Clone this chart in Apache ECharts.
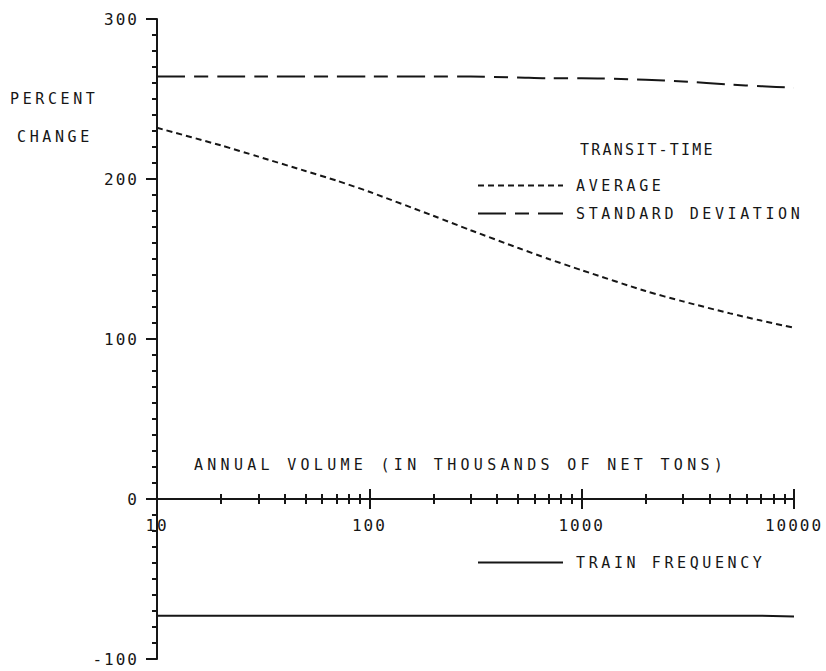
<!DOCTYPE html>
<html>
<head>
<meta charset="utf-8">
<script src="https://cdn.jsdelivr.net/npm/echarts@6/dist/echarts.min.js"></script>
<style>
  html, body { margin: 0; padding: 0; background: #ffffff; }
  #chart { width: 826px; height: 671px; }
</style>
</head>
<body>
<div id="chart"></div>
<script>
// Annual volume (thousands of net tons), log scale
const volume = [10, 20, 30, 50, 70, 100, 200, 300, 500, 700, 1000, 2000, 3000, 5000, 7000, 10000];
// Percent change in transit time
const transitAverage = [232, 221, 214, 205, 199, 192, 177, 168, 157, 150, 143, 130, 123.5, 116, 111.5, 107];
const transitStdDev  = [264, 264, 264, 264, 264, 264, 264, 264, 263.5, 263, 263, 262, 261, 259, 258, 257];
// Percent change in train frequency
const trainFrequency = [-73, -73, -73, -73, -73, -73, -73, -73, -73, -73, -73, -73, -73, -73, -73, -73.5];

const xMajorTicks = [10, 100, 1000, 10000];
const xMinorTicks = [20, 30, 40, 50, 60, 70, 80, 90,
                     200, 300, 400, 500, 600, 700, 800, 900,
                     2000, 3000, 4000, 5000, 6000, 7000, 8000, 9000];
// Upper panel: 0 .. 300, lower panel: -100 .. 0 (same units per pixel)
const yUpper = [0, 300];
const yLower = [-100, 0];
const yStep = 100;

const INK = '#161616';
const FONT = 'DejaVu Sans Mono';

const el = document.getElementById('chart');
const chart = echarts.init(el, null, { renderer: 'svg' });

function points(values) {
  return volume.map((v, i) => [v, values[i]]);
}

// One x-axis layer. The upper panel's bottom edge and the lower panel's
// top edge coincide at zero, so their ticks together cross the axis line.
function xLayer(gridIndex, position, ticks, len, extra) {
  return Object.assign({
    type: 'log',
    logBase: 10,
    min: 10,
    max: 10000,
    gridIndex: gridIndex,
    position: position,
    axisLine: { show: true, onZero: false, lineStyle: { color: INK, width: 2 } },
    axisTick: { show: true, length: len, customValues: ticks, lineStyle: { color: INK, width: 2 } },
    axisLabel: { show: false },
    splitLine: { show: false },
    minorTick: { show: false },
    minorSplitLine: { show: false }
  }, extra || {});
}

function yLayer(gridIndex, range, extra) {
  return Object.assign({
    type: 'value',
    gridIndex: gridIndex,
    min: range[0], max: range[1], interval: yStep,
    axisLine: { show: true, onZero: false, lineStyle: { color: INK, width: 2 } },
    axisTick: { show: true, length: 11, lineStyle: { color: INK, width: 2 } },
    minorTick: { show: true, splitNumber: 10, length: 5, lineStyle: { color: INK, width: 2 } },
    axisLabel: { margin: 18, fontFamily: FONT, fontSize: 16, color: INK },
    splitLine: { show: false }
  }, extra || {});
}

const textStyle = { fontFamily: FONT, fontSize: 15, color: INK, fontWeight: 'normal' };

const legendBase = {
  orient: 'vertical', left: 477, padding: 0,
  itemWidth: 85, itemHeight: 14, itemGap: 13,
  selectedMode: false,
  itemStyle: { opacity: 0 },
  textStyle: Object.assign({ padding: [0, 0, 0, 8] }, textStyle)
};

const option = {
  animation: false,
  backgroundColor: '#ffffff',
  grid: [
    { left: 157, right: 32, top: 19, bottom: 172, outerBoundsMode: 'none' },
    { left: 157, right: 32, top: 499, bottom: 12, outerBoundsMode: 'none' }
  ],
  title: [
    { text: 'PERCENT', left: 10, top: 91, padding: 0, textStyle: textStyle },
    { text: 'CHANGE', left: 17, top: 129, padding: 0, textStyle: textStyle },
    { text: 'TRANSIT-TIME', left: 580, top: 142, padding: 0, textStyle: textStyle }
  ],
  legend: [
    Object.assign({ data: ['AVERAGE', 'STANDARD DEVIATION'], top: 178 }, legendBase),
    Object.assign({ data: ['TRAIN FREQUENCY'], top: 555 }, legendBase)
  ],
  xAxis: [
    xLayer(0, 'bottom', xMajorTicks, 10, {
      axisLabel: {
        show: true, margin: 18, customValues: xMajorTicks,
        fontFamily: FONT, fontSize: 16, color: INK,
        formatter: v => String(Math.round(v))
      }
    }),
    xLayer(0, 'bottom', xMinorTicks, 5),
    xLayer(1, 'top', xMajorTicks, 10, {
      name: 'ANNUAL VOLUME (IN THOUSANDS OF NET TONS)',
      nameLocation: 'middle',
      nameGap: 27,
      nameTextStyle: Object.assign({ padding: [0, 30, 0, 0] }, textStyle)
    }),
    xLayer(1, 'top', xMinorTicks, 5)
  ],
  yAxis: [
    yLayer(0, yUpper),
    yLayer(1, yLower, {
      axisLabel: { margin: 18, fontFamily: FONT, fontSize: 16, color: INK, showMaxLabel: false }
    })
  ],
  series: [
    {
      name: 'AVERAGE', type: 'line', xAxisIndex: 0, yAxisIndex: 0,
      symbol: 'none', smooth: 0.25,
      data: points(transitAverage),
      lineStyle: { color: INK, width: 2, type: [6, 4] },
      itemStyle: { color: INK }
    },
    {
      name: 'STANDARD DEVIATION', type: 'line', xAxisIndex: 0, yAxisIndex: 0,
      symbol: 'none', smooth: 0.25,
      data: points(transitStdDev),
      lineStyle: { color: INK, width: 2, type: [28, 9, 14, 9] },
      itemStyle: { color: INK }
    },
    {
      name: 'TRAIN FREQUENCY', type: 'line', xAxisIndex: 2, yAxisIndex: 1,
      symbol: 'none', smooth: false,
      data: points(trainFrequency),
      lineStyle: { color: INK, width: 2, type: 'solid' },
      itemStyle: { color: INK }
    }
  ]
};

chart.setOption(option);

// Plotter-style wide lettering
const wideSpacing = { 'TRANSIT-TIME': '2.2px', 'ANNUAL VOLUME (IN THOUSANDS OF NET TONS)': '4.3px' };
function spaceLetters() {
  el.querySelectorAll('text').forEach(t => {
    const s = t.textContent.trim();
    t.style.letterSpacing = wideSpacing[s] || (/^-?\d+$/.test(s) ? '2px' : '3.6px');
  });
}
chart.on('finished', spaceLetters);
spaceLetters();
setTimeout(spaceLetters, 0);
</script>
</body>
</html>
